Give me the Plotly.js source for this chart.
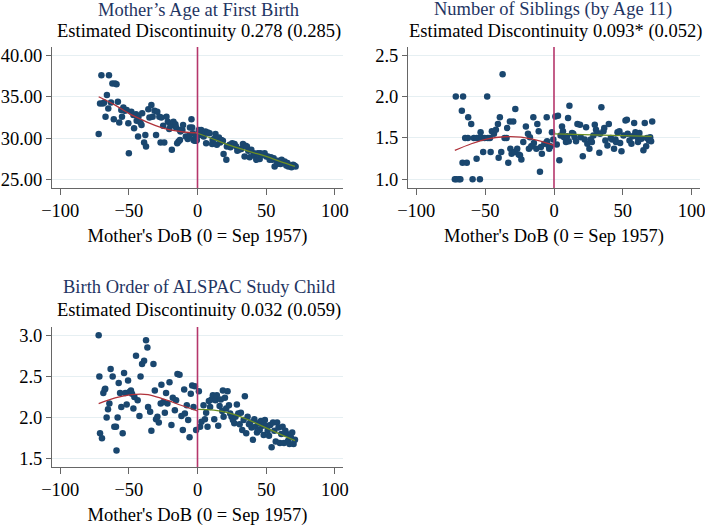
<!DOCTYPE html>
<html>
<head>
<meta charset="utf-8">
<script src="https://cdn.plot.ly/plotly-3.0.1.min.js"></script>
<style>html,body{margin:0;padding:0;background:#fff;}#chart{width:705px;height:527px;}</style>
</head>
<body>
<div id="chart"></div>
<script>
// ---------- Panel 1: Mother's Age at First Birth ----------
const ageX = [-72,-71,-70,-69,-68,-67,-66,-65,-64.5,-63,-62,-61,-60,-59,-58,-57,-55.5,-55,-54,-53,-51.6,-50.4,-50,-48.2,-46.7,-46.2,-44.8,-44.3,-43.3,-43,-41.6,-40.8,-40.3,-38.9,-38,-37.5,-35.8,-35,-33.6,-32.7,-31.3,-30.2,-29.3,-27.8,-26.9,-26.4,-25,-24.2,-22.6,-21.6,-20.6,-19.7,-18.7,-17.5,-16.1,-15.6,-14.8,-13.8,-13,-12.8,-12.4,-11,-10.5,-8.5,-7.1,-6.1,-5.5,-4.4,-3.9,-3.4,-2.9,-2.2,-1.4,-1,-0.5,
  0.9,1.5,2.7,3.9,4.5,5.8,6.3,7.5,8.8,10.7,11,12,13.1,14.1,15.6,16.5,17.3,18.5,19,21,21.4,23.4,24,25.3,27,28.2,29,30.1,31.9,33.1,34.3,35,36,37,38,39.2,40.9,41.5,42.3,42.8,44,45.3,45.8,46.5,47.2,48.9,50.1,51.3,52.6,53.5,54.5,55.5,56.2,57.9,58.5,59.9,60.5,61.3,62.8,63.5,64.7,65.5,66.2,67.7,68.5,69.6,70.5,71.5];
const ageY = [30.5,34.2,37.6,34.2,34.3,32.6,35.2,33.6,37.6,34.3,36.6,32.3,36.6,36.5,34.4,31.9,33.4,32.6,33.7,33.3,33.4,31.8,28.2,33.2,32.8,31.2,32.9,32.1,30.2,32.6,31.9,31.6,33.0,29.5,30.4,29.0,33.5,32.5,34.0,32.6,33.3,30.4,33.2,32.6,29.5,32.5,31.5,29.5,32.6,32.0,31.1,31.5,28.6,32.0,31.7,31.3,29.4,29.6,31.0,29.8,30.8,31.0,31.6,30.2,29.9,30.3,31.3,32.3,31.3,30.6,29.8,29.7,30.2,29.7,29.8,
  31.0,30.4,31.0,30.7,30.2,30.8,29.4,30.7,30.6,29.3,29.8,29.9,30.5,29.2,30.1,29.5,29.8,29.7,28.1,27.4,29.0,29.2,28.9,29.4,29.3,29.0,28.5,28.6,28.7,29.3,27.8,29.1,29.0,28.5,27.7,28.6,28.2,27.9,28.1,27.4,28.2,27.5,28.2,28.0,28.0,28.2,27.8,27.8,27.4,27.7,27.4,27.6,26.6,26.9,27.3,27.1,26.9,27.4,27.0,27.2,26.7,27.0,26.6,26.7,26.5,26.8,26.7,26.6];
const ageFitLX = [-72,-60,-50,-40,-30,-20,-10,0];
const ageFitLY = [35.0,34.0,33.0,32.2,31.5,31.0,30.75,30.65];
const ageFitRX = [0,10,20,30,40,50,60,71];
const ageFitRY = [30.6,30.0,29.35,28.8,28.3,27.8,27.2,26.6];

// ---------- Panel 2: Number of Siblings (by Age 11) ----------
const sibX = [-72,-71.3,-71,-69,-68,-66.9,-66.4,-66,-64.5,-63.3,-62.5,-62.3,-60.1,-59.1,-58.2,-56.2,-56,-54.3,-53.8,-53.3,-52.4,-51.4,-50.4,-48.5,-48,-46.5,-46,-45.1,-43.6,-42.2,-40.7,-40.2,-39.3,-38.3,-37.3,-35.9,-34.4,-34,-33.2,-32,-31.7,-30.8,-29.6,-28.6,-28.1,-26.7,-25.7,-24.7,-23.7,-22.3,-20.4,-18.9,-18.2,-17.5,-16.5,-16,-15,-14.6,-12.8,-12.1,-11.1,-10.2,-9.5,-8.8,-7,-5.3,-5,-4,-3.5,-2.5,-1.5,-0.5,
  1,2,2.9,3.9,4.8,5.8,6.5,7.3,8.7,9.5,10.2,10.7,11.2,13.1,14,15,16,17,18.9,19.4,20.9,22.3,23.3,24.2,25.7,26.7,27.5,28.6,29.6,30.5,31.5,32.9,33.5,34.4,35.9,36.5,37.3,38.8,39.8,41.2,42.2,43.6,44.6,45,46.1,47.5,48,49,50.4,51.9,52.9,53.5,54.8,56.2,57,58.2,59.1,60.6,61,62,63.5,64.9,65.9,66.9,67.5,68.9,69.8,70.5,71.3];
const sibY = [1.0,2.0,1.0,1.0,1.0,1.83,1.2,2.0,1.5,1.2,1.5,1.75,1.67,1.0,1.5,1.25,1.5,1.5,1.0,1.57,1.5,1.33,1.5,2.0,1.5,1.5,1.33,1.58,1.55,1.6,1.67,1.26,1.75,1.33,2.27,1.5,1.5,1.62,1.2,1.7,1.37,1.31,1.7,1.33,1.85,1.37,1.3,1.29,1.24,1.45,1.64,1.55,1.37,1.51,1.4,1.4,1.75,1.44,1.37,1.67,1.58,1.09,1.39,1.31,1.43,1.75,1.46,1.41,1.37,1.4,1.57,1.48,
  1.76,1.42,1.77,1.23,1.53,1.64,1.58,1.51,1.45,1.52,1.74,1.46,1.89,1.56,1.55,1.51,1.46,1.67,1.66,1.51,1.28,1.48,1.63,1.43,1.37,1.48,1.45,1.53,1.66,1.6,1.56,1.32,1.55,1.87,1.58,1.62,1.47,1.41,1.67,1.5,1.48,1.37,1.48,1.45,1.57,1.58,1.44,1.34,1.53,1.71,1.72,1.55,1.47,1.43,1.52,1.68,1.57,1.51,1.45,1.56,1.49,1.35,1.68,1.4,1.5,1.47,1.51,1.46,1.7];
const sibFitLX = [-72,-60,-48,-36,-24,-12,0];
const sibFitLY = [1.35,1.43,1.49,1.515,1.51,1.47,1.41];
const sibFitRX = [0,35,71];
const sibFitRY = [1.55,1.535,1.52];

// ---------- Panel 3: Birth Order of ALSPAC Study Child ----------
const ordX = [-72,-71.5,-71,-69.6,-68.6,-67.6,-67.2,-66.2,-65.2,-64.2,-63.3,-61.8,-60.6,-59.4,-59,-58.2,-57.4,-56.4,-55.5,-54.5,-53.5,-52.6,-51.6,-50.6,-49.6,-48.5,-47.7,-46.7,-46,-44.8,-43.6,-42.3,-41.5,-40.4,-38.9,-37.5,-36.5,-36,-34.5,-33.6,-32.1,-31.1,-30.2,-29.2,-28.2,-26.8,-26.3,-24.8,-23.8,-22.9,-21.9,-20.4,-19,-18,-16.5,-15.6,-14.6,-13.1,-11.7,-10.7,-9.7,-9.2,-7.8,-6.8,-5.8,-4.9,-3.9,-2.9,-1.9,-1,
  1,1.9,2.9,4.4,5.4,6.3,7.3,8.3,9.2,10.2,11.2,12.2,13.1,14.1,15.1,16.1,17,18,18.5,19,20,20.9,21.9,22.9,23.8,24.8,25.8,26.8,27.7,28.7,29.7,30.7,31.6,32.6,33.6,34.5,35.5,36.5,37.5,38.4,39.4,40.4,41.4,42.3,43.3,44.3,45.3,46.2,47.2,48.2,49.1,50.1,51.1,52.1,53,54,55,56,57,58,59,60,61,62,63,64,65,66,67,68,69,70,71];
const ordY = [3.0,2.5,1.81,1.75,2.3,2.34,2.35,2.0,2.1,2.17,2.59,2.5,1.89,1.89,1.6,2.0,2.42,2.3,2.13,1.81,2.54,2.3,2.16,2.45,2.31,2.33,2.29,2.11,2.25,2.75,2.21,2.02,2.5,2.65,2.69,2.94,2.85,2.13,2.07,1.84,2.65,2.33,1.98,2.01,1.94,2.17,2.4,2.19,2.06,2.3,2.17,2.43,1.91,2.24,2.09,2.21,2.53,2.52,2.02,1.85,2.34,2.05,2.15,1.97,1.76,2.29,2.39,2.13,2.38,1.85,
  2.32,1.89,1.95,2.15,1.98,2.06,1.89,2.2,2.13,2.22,2.27,1.98,2.21,2.27,1.9,2.14,2.22,2.08,2.33,2.01,2.24,2.11,2.32,2.15,2.05,2.01,1.97,1.93,2.01,2.16,2.05,1.92,2.06,1.85,1.97,2.26,1.81,2.01,1.92,1.94,1.88,1.73,1.98,1.89,1.82,1.93,1.85,1.96,1.9,1.79,1.97,1.9,1.84,1.78,1.91,1.64,1.94,1.84,1.71,1.94,1.88,1.69,1.8,1.89,1.69,1.84,1.8,1.72,1.68,1.76,1.82,1.68,1.73];
const ordFitLX = [-72,-60,-48,-36,-24,-12,0];
const ordFitLY = [2.17,2.24,2.28,2.28,2.22,2.15,2.08];
const ordFitRX = [0,12,24,36,48,60,71];
const ordFitRY = [2.10,2.09,2.05,1.98,1.89,1.80,1.72];

const titles = ["Mother\u2019s Age at First Birth", "Number of Siblings (by Age 11)", "Birth Order of ALSPAC Study Child"];
const subtitles = ["Estimated Discontinuity 0.278 (0.285)", "Estimated Discontinuity 0.093* (0.052)", "Estimated Discontinuity 0.032 (0.059)"];
const xTitle = "Mother's DoB (0 = Sep 1957)";
const xTicks = [-100,-50,0,50,100];

const FONT = "Liberation Serif, Times New Roman, serif";
const NAVY = "#1a476f";
const RED = "#b0323a";
const GREEN = "#6b8e23";
const VLINE = "#b5366b";

function pts(x, y, xa, ya) {
  return {x:x, y:y, xaxis:xa, yaxis:ya, type:'scatter', mode:'markers',
    marker:{color:NAVY, size:6.5, line:{width:0}}, hoverinfo:'skip', showlegend:false};
}
function fit(x, y, xa, ya, c) {
  return {x:x, y:y, xaxis:xa, yaxis:ya, type:'scatter', mode:'lines',
    line:{color:c, width:1.3, shape:'spline'}, hoverinfo:'skip', showlegend:false};
}

const data = [
  pts(ageX, ageY, 'x', 'y'), fit(ageFitLX, ageFitLY, 'x', 'y', RED), fit(ageFitRX, ageFitRY, 'x', 'y', GREEN),
  pts(sibX, sibY, 'x2', 'y2'), fit(sibFitLX, sibFitLY, 'x2', 'y2', RED), fit(sibFitRX, sibFitRY, 'x2', 'y2', GREEN),
  pts(ordX, ordY, 'x3', 'y3'), fit(ordFitLX, ordFitLY, 'x3', 'y3', RED), fit(ordFitRX, ordFitRY, 'x3', 'y3', GREEN)
];

function xax(dom, anchor) {
  return {domain:dom, anchor:anchor, range:[-106,106], tickvals:xTicks, showgrid:false, zeroline:false,
    showline:true, linecolor:'#666', linewidth:1, ticks:'outside', ticklen:6, tickcolor:'#666',
    ticklabeloverflow:'allow',
    tickfont:{family:FONT, size:18.5, color:'#000'},
    title:{text:xTitle, font:{family:FONT, size:18.5, color:'#000'}, standoff:8}};
}
function yax(dom, anchor, range, tv, fmt) {
  return {domain:dom, anchor:anchor, range:range, tickvals:tv, tickformat:fmt, showgrid:true, gridcolor:'#e6eff2', gridwidth:1,
    zeroline:false, showline:true, linecolor:'#666', linewidth:1, ticks:'outside', ticklen:5, tickcolor:'#666',
    ticklabeloverflow:'allow',
    tickfont:{family:FONT, size:18.5, color:'#000'}};
}

const W = 705, H = 527;
const px = v => v / W;
const py = v => 1 - v / H;

const layout = {
  width:W, height:H, margin:{l:0, r:0, t:0, b:0}, paper_bgcolor:'#fff', plot_bgcolor:'#fff', showlegend:false,
  xaxis: xax([px(52), px(343)], 'y'),
  yaxis: yax([py(188), py(47)], 'x', [24.0, 41.0], [25,30,35,40], '.2f'),
  xaxis2: xax([px(408), px(700)], 'y2'),
  yaxis2: yax([py(188), py(47)], 'x2', [0.895, 2.6], [1.0,1.5,2.0,2.5], '.1f'),
  xaxis3: xax([px(52), px(343)], 'y3'),
  yaxis3: yax([py(467), py(327)], 'x3', [1.4, 3.1], [1.5,2.0,2.5,3.0], '.1f'),
  shapes: [
    {type:'line', xref:'x', yref:'y domain', x0:0, x1:0, y0:0, y1:1, line:{color:VLINE, width:1.6}},
    {type:'line', xref:'x2', yref:'y2 domain', x0:0, x1:0, y0:0, y1:1, line:{color:VLINE, width:1.6}},
    {type:'line', xref:'x3', yref:'y3 domain', x0:0, x1:0, y0:0, y1:1, line:{color:VLINE, width:1.6}}
  ],
  annotations: [
    {text:titles[0], xref:'paper', yref:'paper', x:px(198), y:py(10), xanchor:'center', yanchor:'middle', showarrow:false, font:{family:FONT, size:18.5, color:'#1f3563'}},
    {text:subtitles[0], xref:'paper', yref:'paper', x:px(199), y:py(32), xanchor:'center', yanchor:'middle', showarrow:false, font:{family:FONT, size:18.5, color:'#000'}},
    {text:titles[1], xref:'paper', yref:'paper', x:px(553), y:py(10), xanchor:'center', yanchor:'middle', showarrow:false, font:{family:FONT, size:18.5, color:'#1f3563'}},
    {text:subtitles[1], xref:'paper', yref:'paper', x:px(555), y:py(32), xanchor:'center', yanchor:'middle', showarrow:false, font:{family:FONT, size:18.5, color:'#000'}},
    {text:titles[2], xref:'paper', yref:'paper', x:px(199), y:py(287), xanchor:'center', yanchor:'middle', showarrow:false, font:{family:FONT, size:18.5, color:'#1f3563'}},
    {text:subtitles[2], xref:'paper', yref:'paper', x:px(199), y:py(310), xanchor:'center', yanchor:'middle', showarrow:false, font:{family:FONT, size:18.5, color:'#000'}}
  ]
};

Plotly.newPlot('chart', data, layout, {staticPlot:true, displayModeBar:false});
</script>
</body>
</html>
